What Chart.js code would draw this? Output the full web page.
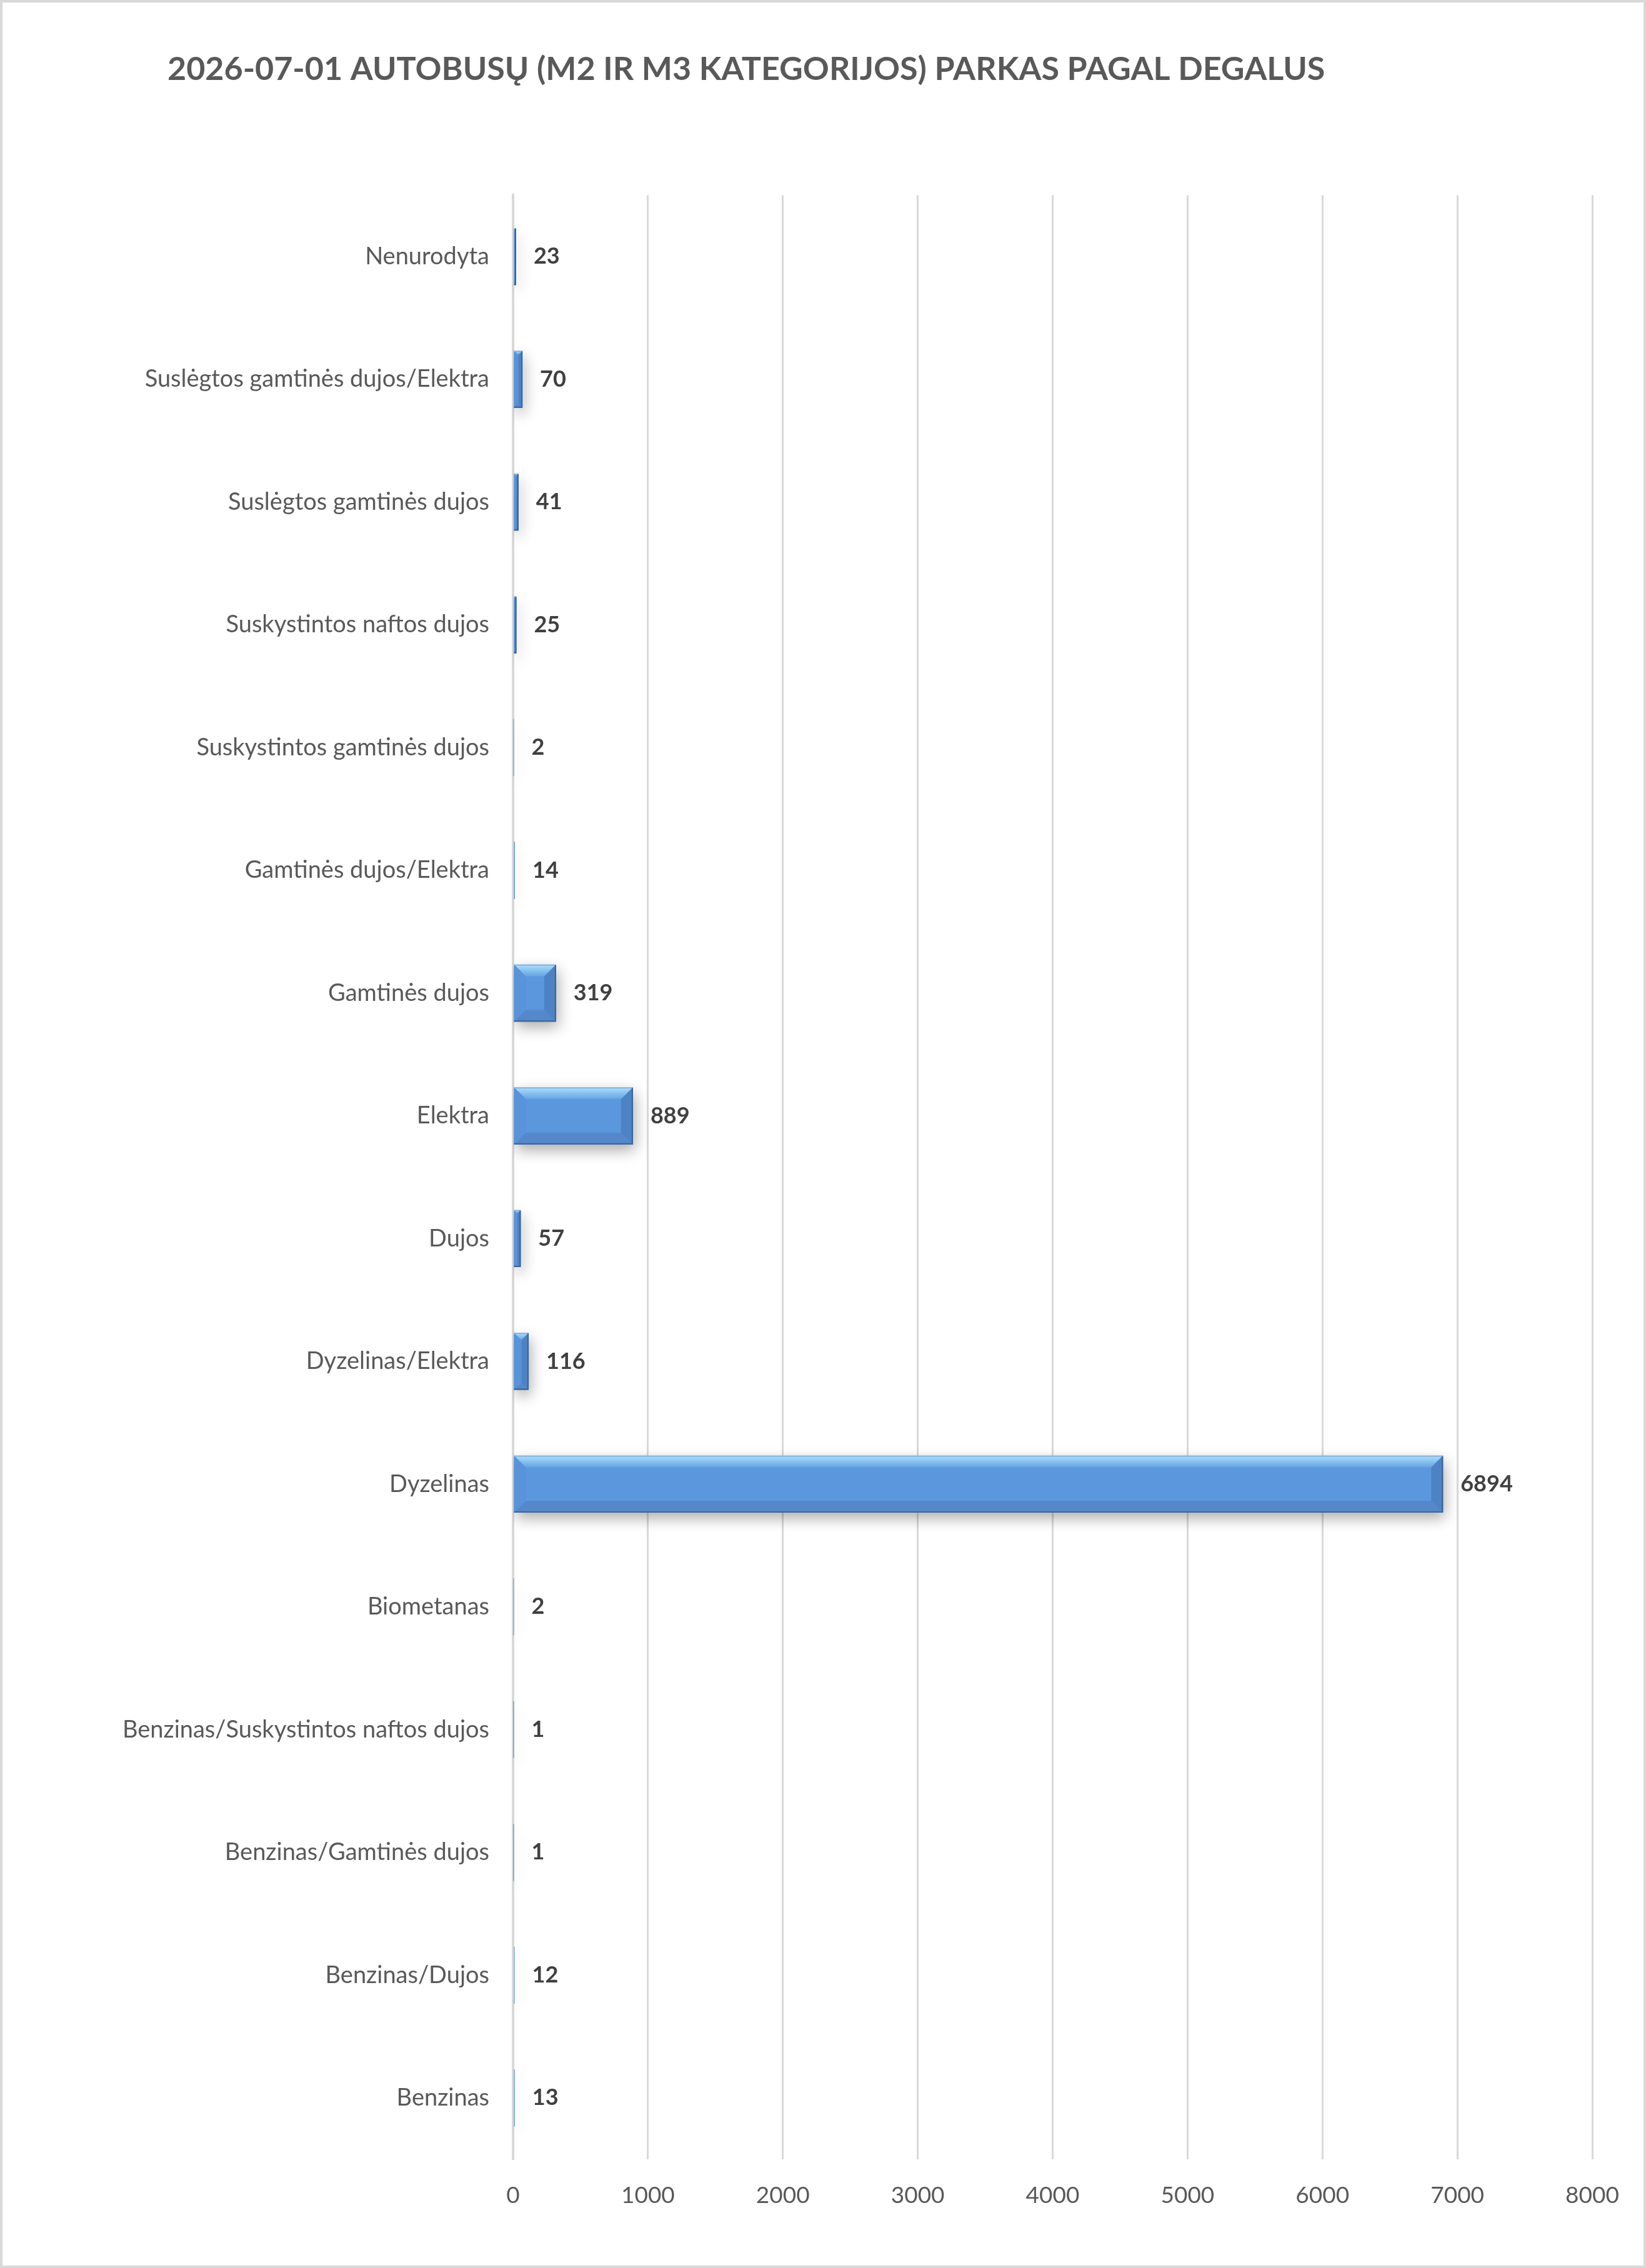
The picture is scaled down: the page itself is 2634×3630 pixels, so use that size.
<!DOCTYPE html>
<html>
<head>
<meta charset="utf-8">
<script src="https://cdn.jsdelivr.net/npm/chart.js@4.4.1/dist/chart.umd.min.js"></script>
<style>
  html, body { margin: 0; padding: 0; background: #fff; }
  #wrap {
    width: 2634px; height: 3630px;
    box-sizing: border-box;
    border: 4px solid #d9d9d9;
    position: relative;
  }
</style>
</head>
<body>
<div id="wrap"><canvas id="fuelChart"></canvas></div>
<script>
// Bus fleet (M2 + M3) by fuel type, 2026-07-01
const chartTitle = '2026-07-01 AUTOBUSŲ (M2 IR M3 KATEGORIJOS) PARKAS PAGAL DEGALUS';

// first category is drawn at the bottom (Excel order)
const fuelTypes = [
    'Benzinas',
    'Benzinas/Dujos',
    'Benzinas/Gamtinės dujos',
    'Benzinas/Suskystintos naftos dujos',
    'Biometanas',
    'Dyzelinas',
    'Dyzelinas/Elektra',
    'Dujos',
    'Elektra',
    'Gamtinės dujos',
    'Gamtinės dujos/Elektra',
    'Suskystintos gamtinės dujos',
    'Suskystintos naftos dujos',
    'Suslėgtos gamtinės dujos',
    'Suslėgtos gamtinės dujos/Elektra',
    'Nenurodyta'
];
const busCounts = [13, 12, 1, 1, 2, 6894, 116, 57, 889, 319, 14, 2, 25, 41, 70, 23];

// value axis
const axisMin = 0;
const axisMax = 8000;
const axisStep = 1000;

const fontFamily = 'Lato, "Open Sans", sans-serif';

// shadow under the bars
const barShadow = {
    id: 'barShadow',
    beforeDatasetDraw(chart) {
        const ctx = chart.ctx;
        ctx.save();
        ctx.shadowColor = 'rgba(0, 0, 0, 0.33)';
        ctx.shadowBlur = 22;
        ctx.shadowOffsetX = 3;
        ctx.shadowOffsetY = 9;
    },
    afterDatasetDraw(chart) {
        chart.ctx.restore();
    }
};

// title sits further right than the label column
const titleShift = {
    id: 'titleShift',
    afterLayout(chart) {
        chart.titleBlock.left += 84;
        chart.titleBlock.right += 84;
    }
};

// bevelled edges + value labels
const barBevel = {
    id: 'barBevel',
    afterDatasetsDraw(chart) {
        const ctx = chart.ctx;
        const meta = chart.getDatasetMeta(0);
        meta.data.forEach((bar, i) => {
            const left = Math.min(bar.base, bar.x);
            const right = Math.max(bar.base, bar.x);
            const top = bar.y - bar.height / 2;
            const bottom = bar.y + bar.height / 2;
            const w = right - left;
            const b = Math.min(19, w / 2, bar.height / 2);

            ctx.save();
            if (w > 3) {
                // top strip
                let g = ctx.createLinearGradient(0, top, 0, top + b);
                g.addColorStop(0, '#b0e0fb');
                g.addColorStop(0.45, '#8ac5f1');
                g.addColorStop(1, '#66a2e4');
                ctx.fillStyle = g;
                ctx.beginPath();
                ctx.moveTo(left, top);
                ctx.lineTo(right, top);
                ctx.lineTo(right - b, top + b);
                ctx.lineTo(left + b, top + b);
                ctx.closePath();
                ctx.fill();

                // bottom strip
                ctx.fillStyle = '#5588cb';
                ctx.beginPath();
                ctx.moveTo(left, bottom);
                ctx.lineTo(right, bottom);
                ctx.lineTo(right - b, bottom - b);
                ctx.lineTo(left + b, bottom - b);
                ctx.closePath();
                ctx.fill();

                // right strip
                ctx.fillStyle = '#4d82c4';
                ctx.beginPath();
                ctx.moveTo(right, top);
                ctx.lineTo(right, bottom);
                ctx.lineTo(right - b, bottom - b);
                ctx.lineTo(right - b, top + b);
                ctx.closePath();
                ctx.fill();

                // left strip
                ctx.fillStyle = '#5993d9';
                ctx.beginPath();
                ctx.moveTo(left, top);
                ctx.lineTo(left, bottom);
                ctx.lineTo(left + b, bottom - b);
                ctx.lineTo(left + b, top + b);
                ctx.closePath();
                ctx.fill();

                // edges
                ctx.lineWidth = 2;
                ctx.strokeStyle = '#8fb4dc';
                ctx.beginPath();
                ctx.moveTo(left, top + 1);
                ctx.lineTo(right, top + 1);
                ctx.stroke();
                ctx.strokeStyle = '#3a6498';
                ctx.beginPath();
                ctx.moveTo(left, bottom - 1);
                ctx.lineTo(right - 1, bottom - 1);
                ctx.lineTo(right - 1, top + 1);
                ctx.stroke();
            }

            // value label
            ctx.fillStyle = '#404040';
            ctx.font = 'bold 36px ' + fontFamily;
            ctx.textAlign = 'left';
            ctx.textBaseline = 'middle';
            ctx.fillText(String(busCounts[i]), right + 28, bar.y);
            ctx.restore();
        });
    }
};

const ctxFuel = document.getElementById('fuelChart').getContext('2d');
const fuelChart = new Chart(ctxFuel, {
    type: 'bar',
    data: {
        labels: fuelTypes,
        datasets: [{
            data: busCounts,
            backgroundColor: '#5b97dd',
            borderWidth: 0,
            barPercentage: 0.465,
            categoryPercentage: 1.0
        }]
    },
    options: {
        indexAxis: 'y',
        responsive: true,
        maintainAspectRatio: false,
        animation: false,
        layout: {
            padding: { left: 180, right: 82, top: 0, bottom: 90 }
        },
        plugins: {
            legend: { display: false },
            tooltip: { enabled: false },
            title: {
                display: true,
                text: chartTitle,
                align: 'start',
                color: '#595959',
                font: { family: fontFamily, size: 52, weight: 'bold' },
                padding: { top: 76, bottom: 170 }
            }
        },
        scales: {
            x: {
                min: axisMin,
                max: axisMax,
                ticks: {
                    stepSize: axisStep,
                    color: '#595959',
                    font: { family: fontFamily, size: 37 },
                    padding: 36,
                    callback: (value) => String(value)
                },
                grid: {
                    color: '#d9d9d9',
                    lineWidth: 3,
                    drawTicks: false
                },
                border: { display: false },
                afterFit(scale) { scale.height = 80; }
            },
            y: {
                reverse: true,
                ticks: {
                    color: '#595959',
                    font: { family: fontFamily, size: 38 },
                    padding: 38,
                    autoSkip: false
                },
                grid: { display: false, drawTicks: false },
                border: { display: true, color: '#d9d9d9', width: 4 },
                afterFit(scale) { scale.width = 637; }
            }
        }
    },
    plugins: [barShadow, titleShift, barBevel]
});
</script>
</body>
</html>
